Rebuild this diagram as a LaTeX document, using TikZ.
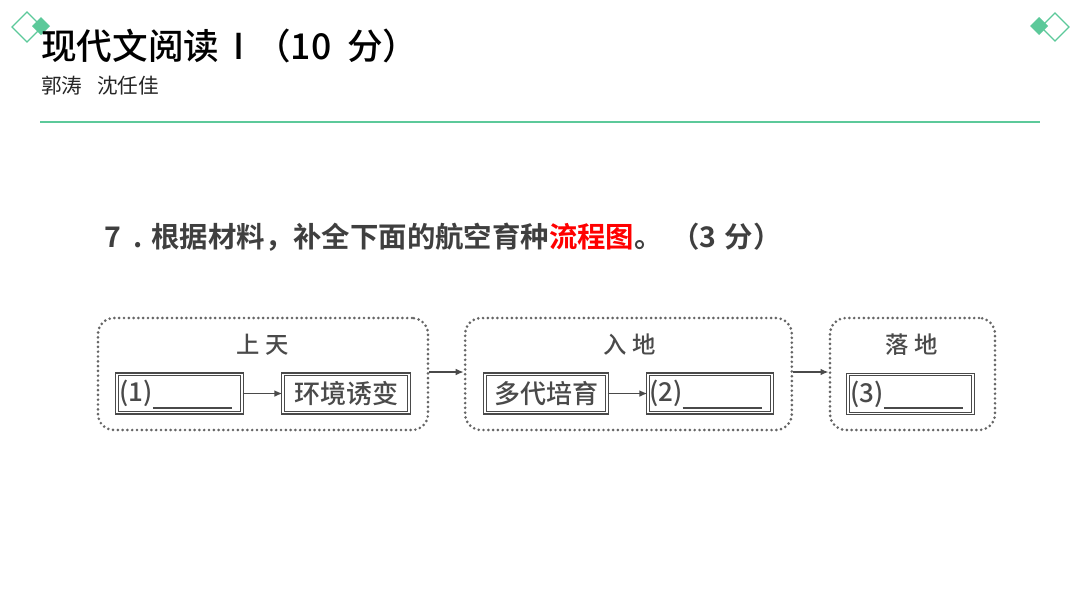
\documentclass[tikz,border=0pt]{standalone}
\usepackage{fontspec}
\newfontfamily\cjk{Noto Sans CJK SC}
\newfontfamily\cjkb{Noto Sans CJK SC Bold}
\newfontfamily\cjkm{Noto Sans CJK SC Medium}
\usetikzlibrary{arrows.meta}
\definecolor{teal1}{HTML}{5CC99A}
\definecolor{qgray}{HTML}{3F3F3F}
\definecolor{boxgray}{HTML}{4A4A4A}
\tikzset{
  grp/.style={draw=boxgray!85, line width=2.2pt, dash pattern=on 0pt off 3.6pt, line cap=round, rounded corners=12pt, minimum width=#1, minimum height=84pt},
  inbox/.style={draw=boxgray, double=white, double distance=0.8pt, line width=0.9pt, minimum width=#1, minimum height=29pt, inner sep=0pt},
  lab/.style={font=\cjkm\fontsize{17.5}{17.5}\selectfont, text=boxgray},
  btxt/.style={font=\cjkm\fontsize{19.5}{19.5}\selectfont, text=boxgray},
  arr/.style={draw=boxgray, line width=1.1pt, -{Latex[length=6pt,width=5pt]}},
  uline/.style={draw=boxgray, line width=1.4pt},
}
\begin{document}
\begin{tikzpicture}[x=0.75pt,y=-0.75pt]
\useasboundingbox (0,0) rectangle (1080,608);
\fill[white] (0,0) rectangle (1080,608);
% decorations
\draw[teal1, line width=1pt] (12,27) -- (27,12) -- (42,27) -- (27,42) -- cycle;
\fill[teal1] (32,26) -- (41,17) -- (50,26) -- (41,35) -- cycle;
\draw[teal1, line width=1pt] (1041,27) -- (1055,13) -- (1069,27) -- (1055,41) -- cycle;
\fill[teal1] (1030,26) -- (1039,17) -- (1048,26) -- (1039,35) -- cycle;
% title
\node[anchor=west, inner sep=0pt, font=\cjkm\fontsize{26.7}{26.7}\selectfont] (title) at (41,46) {现代文阅读\hspace{0.4em}I\hspace{0.3em}（10\hspace{0.45em}分）};
\node[anchor=west, inner sep=0pt, font=\cjk\fontsize{15.5}{15.5}\selectfont, text=black!85] (sub) at (41,86) {郭涛\hspace{0.7em}沈任佳};
\draw[teal1, line width=2.2pt] (40,122) -- (1040,122);
% question
\node[anchor=west, inner sep=0pt, font=\cjkb\fontsize{21.3}{21.3}\selectfont, text=qgray] (q) at (104,237) {7\hspace{0.45em}.\hspace{0.3em}根据材料，补全下面的航空育种\textcolor{red}{流程图}。\hspace{0.3em}（3\hspace{0.3em}分）};
% groups
\node[grp=247.5pt] (g1) at (263,374) {};
\node[grp=245pt] (g2) at (628.5,374) {};
\node[grp=123.75pt] (g3) at (912.5,374) {};
\node[lab] (l1) at (263,345) {上\hspace{0.25em}天};
\node[lab] (l2) at (630,345) {入\hspace{0.25em}地};
\node[lab] (l3) at (912,345) {落\hspace{0.25em}地};
% inner boxes
\node[inbox=93.75pt] (b1) at (179.5,393.5) {};
\node[inbox=94.5pt, btxt] (b2) at (346,393.5) {环境诱变};
\node[inbox=91.5pt, btxt] (b3) at (546,393.5) {多代培育};
\node[inbox=93pt] (b4) at (710,393.5) {};
\node[inbox=93.75pt] (b5) at (910.5,394) {};
% blank labels
\node[btxt, anchor=west, inner sep=0pt] (t1) at ([xshift=2pt]b1.west) {(1)};
\draw[uline] (t1.south east |- 0,408) -- (232,408);
\node[btxt, anchor=west, inner sep=0pt] (t2) at ([xshift=1pt]b4.west) {(2)};
\draw[uline] (t2.south east |- 0,408) -- (762,408);
\node[btxt, anchor=west, inner sep=0pt] (t3) at ([xshift=2pt]b5.west) {(3)};
\draw[uline] (t3.south east |- 0,408) -- (963,408);
% arrows
\draw[arr] (b1.east) -- (b2.west);
\draw[arr] (b3.east) -- (b4.west);
\draw[arr] (g1.east |- 0,372) -- (g2.west |- 0,372);
\draw[arr] (g2.east |- 0,372) -- (g3.west |- 0,372);
\end{tikzpicture}
\end{document}
